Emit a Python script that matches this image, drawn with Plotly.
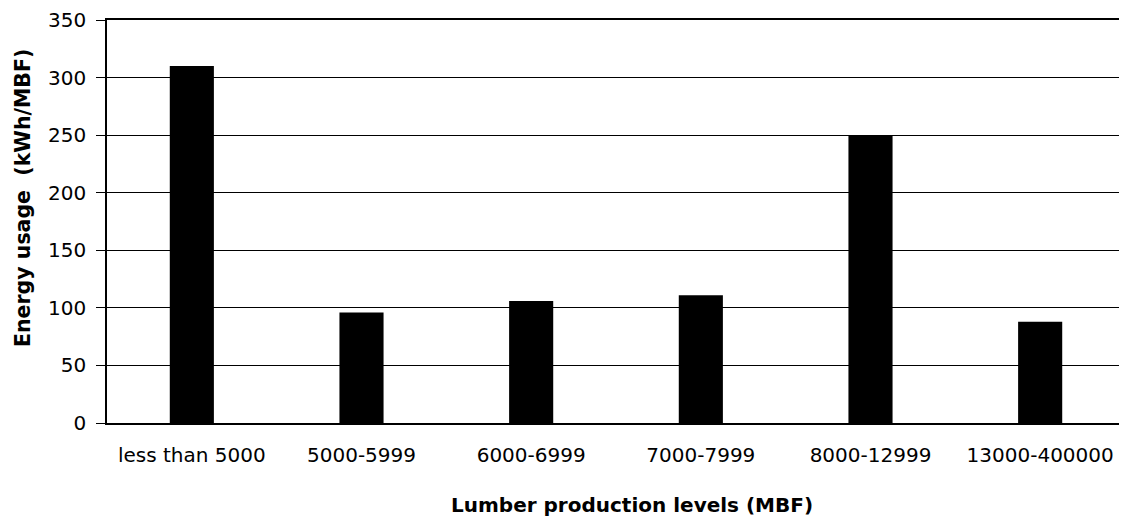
import plotly.graph_objects as go

categories = ["less than 5000", "5000-5999", "6000-6999", "7000-7999", "8000-12999", "13000-400000"]
energy_usage = [310, 96, 106, 111, 250, 88]
y_ticks = [0, 50, 100, 150, 200, 250, 300, 350]

# page body has an 8px margin; plot area offsets compensate for it
L, T, R, B = 99, 12, 10, 110
W, H = 1127, 525
PW, PH = W - L - R, H - T - B

fig = go.Figure(go.Bar(x=categories, y=energy_usage, marker=dict(color="black", line=dict(width=0)), width=0.26))

fig.update_layout(
    width=W, height=H,
    margin=dict(l=L, r=R, t=T, b=B),
    paper_bgcolor="white", plot_bgcolor="white",
    font=dict(family="DejaVu Sans", color="black", size=20),
    showlegend=False,
)
fig.update_xaxes(
    showline=True, linecolor="black", linewidth=1.5, mirror=True,
    ticks="", tickfont=dict(size=20), ticklabelstandoff=13,
    automargin=False,
)
fig.update_yaxes(
    range=[0, 350], tickvals=y_ticks,
    showline=True, linecolor="black", linewidth=1.5, mirror=True,
    showgrid=True, gridcolor="black", gridwidth=1.2,
    ticks="outside", ticklen=9, tickcolor="black", tickwidth=1.2,
    tickfont=dict(size=20), ticklabelstandoff=6, ticklabeloverflow="allow",
    automargin=False, zeroline=False,
)
fig.add_annotation(
    text="<b>Lumber production levels (MBF)</b>", font=dict(size=20),
    xref="paper", yref="paper", x=(624 - L) / PW, y=(T + PH - 497) / PH,
    showarrow=False, xanchor="center", yanchor="middle",
)
fig.add_annotation(
    text="<b>Energy usage&nbsp;&nbsp;(kWh/MBF)</b>", font=dict(size=20.5), textangle=-90,
    xref="paper", yref="paper", x=(15 - L) / PW, y=(T + PH - 190) / PH,
    showarrow=False, xanchor="center", yanchor="middle",
)
fig.write_html("out.html")
